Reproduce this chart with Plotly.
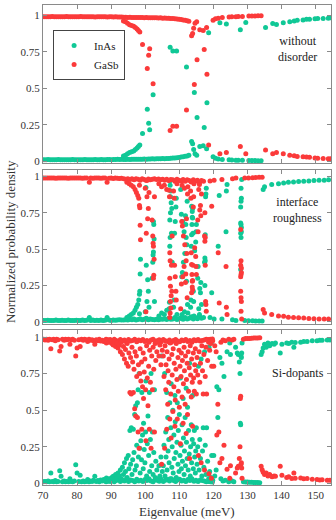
import plotly.graph_objects as go

# ---------------- axis / label data ----------------
x_ticks = [70, 80, 90, 100, 110, 120, 130, 140, 150]
y_ticks = [0, 0.25, 0.5, 0.75, 1]
y_tick_text = ["0", "0.25", "0.5", "0.75", "1"]
series_names = ["InAs", "GaSb"]
panel_labels = ["without<br>disorder", "interface<br>roughness", "Si-dopants"]

# ---------------- panel 1: without disorder ----------------
p1a_E = [70.3, 70.9, 71.5, 72.1, 72.7, 73.3, 73.9, 74.5, 75.1, 75.7, 76.3, 76.9, 77.5, 78.1, 78.7, 79.3, 79.9, 80.5, 81.1, 81.7,
         82.3, 82.9, 83.5, 84.1, 84.7, 85.3, 85.9, 86.5, 87.1, 87.7, 88.3, 88.9, 89.5, 90.1, 90.7, 91.3, 91.9, 92.5, 93.1]
p1a_inas = [0.010, 0.010, 0.011, 0.010, 0.009, 0.010, 0.010, 0.011, 0.010, 0.010, 0.010, 0.009, 0.010, 0.010, 0.011, 0.010, 0.010, 0.010, 0.009, 0.010,
            0.011, 0.010, 0.010, 0.010, 0.010, 0.012, 0.010, 0.010, 0.011, 0.010, 0.010, 0.012, 0.011, 0.010, 0.012, 0.011, 0.013, 0.012, 0.013]
p1a_gasb = [0.990, 0.990, 0.989, 0.990, 0.991, 0.990, 0.990, 0.989, 0.990, 0.990, 0.990, 0.991, 0.990, 0.990, 0.989, 0.990, 0.990, 0.990, 0.991, 0.990,
            0.989, 0.990, 0.990, 0.990, 0.990, 0.988, 0.990, 0.990, 0.989, 0.990, 0.990, 0.988, 0.989, 0.990, 0.988, 0.989, 0.987, 0.988, 0.987]

p1b_E = [93.7, 94.3, 94.9, 95.5, 96.1, 96.7, 97.3, 97.9, 98.5, 99.1, 99.7, 100.3, 100.9, 101.5, 102.1, 102.7, 103.3, 103.9, 104.5, 105.1,
         105.7, 106.3, 106.9, 107.5, 108.1, 108.7, 109.3, 109.9, 110.5, 111.1, 111.7, 112.3, 112.8]
p1b_inas = [0.012, 0.012, 0.013, 0.012, 0.013, 0.013, 0.014, 0.013, 0.014, 0.014, 0.015, 0.014, 0.015, 0.015, 0.016, 0.015, 0.016, 0.017, 0.016, 0.018,
            0.017, 0.018, 0.019, 0.020, 0.021, 0.022, 0.024, 0.025, 0.028, 0.030, 0.033, 0.036, 0.040]
p1b_gasb = [0.986, 0.986, 0.985, 0.986, 0.985, 0.985, 0.984, 0.985, 0.984, 0.984, 0.983, 0.984, 0.983, 0.983, 0.982, 0.983, 0.982, 0.981, 0.982, 0.980,
            0.981, 0.980, 0.979, 0.978, 0.977, 0.976, 0.974, 0.973, 0.970, 0.968, 0.965, 0.962, 0.958]

p1c_E = [93.6, 94.2, 94.8, 95.4, 96.0, 96.6, 97.1, 97.6, 98.0, 98.4, 99.2, 100.6, 101.0, 101.3, 102.3]
p1c_inas = [0.035, 0.04, 0.05, 0.06, 0.065, 0.07, 0.08, 0.09, 0.10, 0.11, 0.19, 0.355, 0.26, 0.215, 0.455]
p1c_gasb = [0.96, 0.955, 0.945, 0.935, 0.93, 0.925, 0.915, 0.905, 0.895, 0.885, 0.80, 0.635, 0.725, 0.77, 0.53]

p1d_E = [107.3, 108.1, 109.2, 112.1, 113.6, 113.9, 114.2, 114.4, 114.6, 115.1, 115.2, 116.0, 117.0, 117.3, 118.0, 118.1, 118.6]
p1d_inas = [0.78, 0.755, 0.755, 0.645, 0.135, 0.12, 0.08, 0.47, 0.05, 0.04, 0.30, 0.10, 0.105, 0.23, 0.085, 0.40, 0.88]
p1d_gasb = [0.21, 0.24, 0.24, 0.35, 0.86, 0.875, 0.91, 0.525, 0.945, 0.955, 0.695, 0.90, 0.895, 0.765, 0.915, 0.595, 0.11]

p1e_E = [119.9, 120.6, 121.4, 121.9, 122.6, 123.8, 124.6, 125.4, 126.6, 127.3, 127.9, 128.5, 129.5, 130.4, 131.3, 132.2, 133.1, 134.0]
p1e_inas = [0.03, 0.02, 0.015, 0.948, 0.012, 0.94, 0.01, 0.008, 0.007, 0.006, 0.90, 0.006, 0.95, 0.005, 0.004, 0.004, 0.003, 0.003]
p1e_gasb = [0.965, 0.975, 0.98, 0.05, 0.985, 0.06, 0.988, 0.99, 0.99, 0.992, 0.10, 0.992, 0.05, 0.994, 0.995, 0.995, 0.996, 0.996]

p1f_E = [135.3, 137.4, 138.5, 140.5, 142.4, 143.7, 144.6, 146.3, 147.3, 148.2, 149.8, 150.6, 152.2, 153.7, 154.4]
p1f_inas = [0.916, 0.943, 0.937, 0.948, 0.955, 0.96, 0.965, 0.968, 0.972, 0.973, 0.975, 0.977, 0.977, 0.98, 0.982]
p1f_gasb = [0.077, 0.05, 0.06, 0.05, 0.041, 0.037, 0.032, 0.03, 0.028, 0.027, 0.022, 0.02, 0.018, 0.016, 0.016]

# ---------------- panel 2: interface roughness ----------------
p2a_E = [70.2, 70.8, 71.4, 72.0, 72.6, 73.2, 73.8, 74.4, 75.0, 75.6, 76.2, 76.8, 77.4, 78.0, 78.6, 79.2, 79.8, 80.4, 81.0, 81.6,
         82.2, 82.8, 83.6, 84.0, 84.6, 85.2, 85.8, 86.4, 87.0, 87.6, 88.2, 88.8, 89.4, 90.0, 90.6, 91.2, 91.8, 92.4, 93.0]
p2a_inas = [0.010, 0.010, 0.011, 0.010, 0.010, 0.010, 0.012, 0.010, 0.010, 0.011, 0.010, 0.010, 0.012, 0.010, 0.010, 0.010, 0.011, 0.010, 0.010, 0.012,
            0.010, 0.011, 0.030, 0.010, 0.012, 0.010, 0.011, 0.010, 0.012, 0.010, 0.011, 0.030, 0.012, 0.010, 0.013, 0.011, 0.012, 0.014, 0.012]
p2a_gasb = [0.990, 0.990, 0.989, 0.990, 0.990, 0.990, 0.988, 0.990, 0.990, 0.989, 0.990, 0.990, 0.988, 0.990, 0.990, 0.990, 0.989, 0.990, 0.990, 0.988,
            0.990, 0.989, 0.960, 0.990, 0.988, 0.990, 0.989, 0.990, 0.988, 0.990, 0.989, 0.960, 0.988, 0.990, 0.987, 0.989, 0.988, 0.986, 0.988]

p2b_E = [93.7, 94.3, 94.9, 95.5, 96.1, 96.7, 97.3, 97.9, 98.5, 99.1, 99.7, 100.3, 100.9, 101.5, 102.1, 102.7, 103.3, 103.9, 104.5, 105.1,
         105.7, 106.3, 106.9, 107.5, 108.1, 108.7, 109.3, 109.9, 110.5, 111.1, 111.7, 112.3, 112.9, 113.5, 114.1, 114.7, 115.3, 115.9, 116.5, 117.1]
p2b_inas = [0.012, 0.015, 0.012, 0.018, 0.014, 0.020, 0.013, 0.016, 0.022, 0.014, 0.018, 0.025, 0.015, 0.020, 0.016, 0.014, 0.018, 0.015, 0.020, 0.017,
            0.022, 0.016, 0.025, 0.018, 0.020, 0.030, 0.016, 0.022, 0.028, 0.018, 0.030, 0.020, 0.025, 0.035, 0.020, 0.030, 0.022, 0.040, 0.025, 0.030]
p2b_gasb = [0.985, 0.982, 0.985, 0.980, 0.984, 0.978, 0.985, 0.982, 0.975, 0.984, 0.980, 0.972, 0.983, 0.978, 0.982, 0.984, 0.980, 0.983, 0.978, 0.981,
            0.975, 0.982, 0.972, 0.980, 0.978, 0.968, 0.982, 0.975, 0.970, 0.980, 0.967, 0.978, 0.972, 0.962, 0.978, 0.968, 0.975, 0.957, 0.972, 0.968]

p2c_E = [94.6, 95.3, 95.9, 96.5, 97.0, 97.4, 97.8, 98.1, 98.3, 98.4, 98.5, 98.6, 98.3,
         100.0, 100.2, 100.3, 100.5, 100.7, 100.9, 101.1, 100.6,
         102.0, 102.2, 102.3, 102.4, 102.5, 102.6, 102.7, 102.4,
         104.0, 104.8, 105.6, 106.3]
p2c_inas = [0.03, 0.04, 0.05, 0.06, 0.08, 0.10, 0.12, 0.15, 0.19, 0.21, 0.33, 0.43, 0.055,
            0.07, 0.925, 0.39, 0.14, 0.29, 0.21, 0.10, 0.02,
            0.30, 0.41, 0.46, 0.48, 0.67, 0.57, 0.14, 0.69,
            0.04, 0.06, 0.05, 0.08]
p2c_gasb = [0.96, 0.95, 0.94, 0.93, 0.91, 0.89, 0.87, 0.85, 0.80, 0.785, 0.665, 0.565, 0.94,
            0.92, 0.07, 0.61, 0.86, 0.71, 0.78, 0.89, 0.975,
            0.70, 0.59, 0.54, 0.52, 0.32, 0.43, 0.86, 0.30,
            0.95, 0.93, 0.94, 0.91]

p2d_E = [107.0, 107.1, 107.2, 107.3, 107.2, 107.4, 107.5, 107.3, 107.2, 107.6, 107.8, 107.9, 107.7, 107.4,
         108.3, 108.5, 108.6, 108.8, 109.0, 109.1, 109.3,
         110.4, 110.6, 110.7, 110.9, 111.0, 111.2, 111.4, 111.6, 111.8, 111.9, 112.0, 112.1, 112.2, 112.3, 112.4, 112.5, 111.5, 110.8]
p2d_inas = [0.09, 0.135, 0.52, 0.58, 0.70, 0.75, 0.90, 0.94, 0.97, 0.82, 0.78, 0.41, 0.61, 0.86,
            0.10, 0.15, 0.61, 0.69, 0.79, 0.85, 0.05,
            0.91, 0.74, 0.31, 0.34, 0.69, 0.41, 0.62, 0.47, 0.73, 0.67, 0.58, 0.28, 0.53, 0.83, 0.12, 0.06, 0.07, 0.05]
p2d_gasb = [0.905, 0.86, 0.475, 0.42, 0.30, 0.245, 0.096, 0.06, 0.03, 0.18, 0.21, 0.59, 0.39, 0.14,
            0.90, 0.85, 0.39, 0.31, 0.21, 0.15, 0.95,
            0.09, 0.26, 0.69, 0.66, 0.31, 0.59, 0.38, 0.53, 0.27, 0.33, 0.42, 0.71, 0.47, 0.165, 0.88, 0.93, 0.92, 0.94]

p2e_E = [113.3, 113.4, 113.5, 113.6, 113.7, 113.8, 113.9, 113.6, 113.8, 113.9, 114.0, 114.1, 114.2, 114.5, 114.8, 114.9, 115.0, 114.3,
         115.4, 115.5, 115.7, 116.0, 116.2, 116.3, 116.5, 115.9,
         117.4, 117.5, 117.6, 117.7, 117.8, 117.9, 117.5, 117.6]
p2e_inas = [0.10, 0.15, 0.52, 0.60, 0.67, 0.72, 0.78, 0.795, 0.76, 0.715, 0.61, 0.21, 0.14, 0.49, 0.55, 0.62, 0.67, 0.04,
            0.30, 0.38, 0.09, 0.23, 0.20, 0.27, 0.12, 0.05,
            0.41, 0.44, 0.60, 0.86, 0.88, 0.92, 0.25, 0.42]
p2e_gasb = [0.90, 0.85, 0.475, 0.395, 0.326, 0.28, 0.22, 0.20, 0.24, 0.285, 0.39, 0.79, 0.86, 0.51, 0.45, 0.38, 0.325, 0.95,
            0.70, 0.62, 0.91, 0.77, 0.80, 0.73, 0.88, 0.945,
            0.59, 0.555, 0.39, 0.14, 0.12, 0.073, 0.75, 0.58]

p2f_E = [119.0, 119.5, 120.2, 121.4, 121.7, 122.5, 123.7, 123.8, 124.0, 125.6, 126.6,
         128.0, 128.1, 128.0, 128.2, 128.1, 128.0, 128.1, 128.2, 128.1, 128.3, 128.0, 128.2,
         129.2, 130.3, 131.5, 132.4, 133.4, 134.3]
p2f_inas = [0.03, 0.20, 0.02, 0.52, 0.87, 0.02, 0.62, 0.90, 0.945, 0.015, 0.01,
            0.36, 0.58, 0.61, 0.62, 0.67, 0.79, 0.83, 0.85, 0.92, 0.98, 0.68, 0.65,
            0.01, 0.008, 0.008, 0.006, 0.005, 0.005]
p2f_gasb = [0.97, 0.795, 0.975, 0.475, 0.13, 0.98, 0.38, 0.10, 0.05, 0.985, 0.99,
            0.635, 0.42, 0.39, 0.37, 0.326, 0.21, 0.165, 0.14, 0.073, 0.02, 0.31, 0.34,
            0.99, 0.99, 0.992, 0.993, 0.995, 0.995]

p2g_E = [134.6, 135.0, 137.1, 139.1, 140.6, 142.0, 143.5, 145.0, 146.5, 148.0, 149.5, 151.0, 152.5, 153.8]
p2g_inas = [0.91, 0.93, 0.945, 0.95, 0.955, 0.96, 0.962, 0.965, 0.968, 0.97, 0.972, 0.975, 0.975, 0.977]
p2g_gasb = [0.085, 0.06, 0.05, 0.04, 0.038, 0.032, 0.03, 0.028, 0.026, 0.023, 0.022, 0.02, 0.02, 0.019]

# ---------------- panel 3: Si-dopants ----------------
p3a_E = [70.2, 70.6, 71.0, 71.5, 71.9, 72.3, 72.7, 73.1, 73.6, 74.0, 74.4, 74.9, 75.3, 75.7, 76.2, 76.6, 77.0, 77.5, 77.9, 78.3, 78.7,
         79.2, 79.6, 80.0, 80.5, 80.9, 81.3, 81.8, 82.2, 82.6, 83.1, 83.5, 83.9, 84.4, 84.8, 85.2, 85.6, 86.1, 86.5, 86.9, 87.4, 87.8]
p3a_inas = [0.01, 0.012, 0.01, 0.015, 0.01, 0.07, 0.012, 0.01, 0.018, 0.01, 0.012, 0.085, 0.048, 0.01, 0.015, 0.01, 0.012, 0.01, 0.03, 0.012, 0.01,
            0.015, 0.127, 0.07, 0.012, 0.055, 0.01, 0.015, 0.01, 0.012, 0.025, 0.01, 0.015, 0.012, 0.02, 0.048, 0.012, 0.018, 0.01, 0.022, 0.015, 0.025]
p3a_gasb = [0.985, 0.98, 0.985, 0.978, 0.985, 0.92, 0.982, 0.985, 0.975, 0.985, 0.982, 0.905, 0.935, 0.985, 0.978, 0.985, 0.982, 0.985, 0.95, 0.982, 0.985,
            0.978, 0.87, 0.925, 0.982, 0.935, 0.985, 0.978, 0.985, 0.982, 0.97, 0.985, 0.978, 0.982, 0.975, 0.95, 0.982, 0.975, 0.985, 0.972, 0.978, 0.97]

p3b_E = [88.5, 89.1, 89.7, 90.3, 90.9, 91.5, 92.1, 92.7, 93.3, 93.9, 94.5, 95.1, 95.7, 96.3, 96.9, 97.5, 98.1, 98.7, 99.3, 99.9,
         100.5, 101.1, 101.7, 102.3, 102.9, 103.5, 104.1, 104.7, 105.3, 105.9, 106.5, 107.1, 107.7, 108.3, 108.9, 109.5, 110.1, 110.7, 111.3, 111.9,
         112.5, 113.1, 113.7, 114.3, 114.9, 115.5, 116.1, 116.7, 117.3, 117.9, 118.5, 119.1, 119.7]
p3b_inas = [0.01, 0.015, 0.012, 0.02, 0.01, 0.018, 0.025, 0.012, 0.02, 0.015, 0.03, 0.012, 0.022, 0.018, 0.01, 0.028, 0.015, 0.02, 0.012, 0.025,
            0.018, 0.03, 0.015, 0.01, 0.022, 0.02, 0.014, 0.028, 0.012, 0.02, 0.025, 0.015, 0.03, 0.018, 0.012, 0.022, 0.028, 0.015, 0.02, 0.012,
            0.025, 0.018, 0.03, 0.014, 0.02, 0.012, 0.022, 0.018, 0.015, 0.01, 0.012, 0.01, 0.008]
p3b_gasb = [0.985, 0.98, 0.983, 0.975, 0.985, 0.977, 0.97, 0.983, 0.975, 0.98, 0.965, 0.983, 0.973, 0.977, 0.985, 0.967, 0.98, 0.975, 0.983, 0.97,
            0.977, 0.965, 0.98, 0.985, 0.973, 0.975, 0.981, 0.967, 0.983, 0.975, 0.97, 0.98, 0.965, 0.977, 0.983, 0.973, 0.967, 0.98, 0.975, 0.983,
            0.97, 0.977, 0.965, 0.981, 0.975, 0.983, 0.973, 0.977, 0.98, 0.985, 0.983, 0.985, 0.987]

p3c_E = [88.2, 88.6, 89.0, 89.4, 89.8, 90.2, 90.6, 91.0, 91.3, 91.7, 92.0, 92.4, 92.7, 93.0, 93.3, 93.6, 93.9, 94.2, 94.5, 94.7,
         95.0, 95.2, 95.5, 95.7, 95.9, 96.1, 96.3, 96.5, 96.7, 96.9, 97.0, 97.2, 97.4, 97.5, 97.7, 97.9, 98.0, 98.2, 98.4, 98.5,
         98.7, 98.9, 99.0, 99.2, 99.4, 99.5, 99.7, 99.9, 100.1, 100.2, 100.4, 100.6, 100.8, 101.0, 101.2, 101.3, 101.5, 101.7, 101.9, 102.1,
         102.3, 102.5, 102.7, 102.9, 103.1, 103.4, 103.7, 104.0, 104.3, 104.6, 104.8, 105.0]
p3c_inas = [0.02, 0.036, 0.015, 0.03, 0.02, 0.04, 0.048, 0.025, 0.06, 0.035, 0.07, 0.05, 0.09, 0.03, 0.11, 0.06, 0.14, 0.08, 0.17, 0.04,
            0.19, 0.10, 0.36, 0.13, 0.38, 0.06, 0.16, 0.37, 0.21, 0.47, 0.09, 0.53, 0.12, 0.26, 0.55, 0.64, 0.18, 0.75, 0.24, 0.07,
            0.29, 0.16, 0.62, 0.33, 0.10, 0.41, 0.23, 0.14, 0.35, 0.70, 0.05, 0.27, 0.46, 0.19, 0.62, 0.08, 0.30, 0.75, 0.12, 0.35,
            0.06, 0.21, 0.64, 0.04, 0.15, 0.09, 0.03, 0.12, 0.05, 0.18, 0.87, 0.08]
p3c_gasb = [0.975, 0.96, 0.98, 0.965, 0.975, 0.955, 0.945, 0.97, 0.935, 0.96, 0.925, 0.945, 0.90, 0.965, 0.88, 0.935, 0.85, 0.915, 0.82, 0.955,
            0.80, 0.89, 0.62, 0.86, 0.61, 0.93, 0.83, 0.62, 0.78, 0.51, 0.90, 0.46, 0.87, 0.73, 0.45, 0.35, 0.81, 0.24, 0.75, 0.92,
            0.70, 0.83, 0.37, 0.66, 0.89, 0.58, 0.76, 0.85, 0.64, 0.29, 0.94, 0.72, 0.53, 0.80, 0.37, 0.91, 0.69, 0.24, 0.87, 0.64,
            0.93, 0.78, 0.35, 0.955, 0.84, 0.90, 0.965, 0.87, 0.945, 0.81, 0.13, 0.91]

p3d_E = [105.3, 105.5, 105.7, 105.8, 106.0, 106.1, 106.3, 106.4, 106.6, 106.7, 106.9, 107.0, 107.2, 107.3, 107.5, 107.6, 107.8, 107.9, 108.1, 108.2,
         108.4, 108.5, 108.7, 108.8, 109.0, 109.1, 109.3, 109.4, 109.6, 109.7, 109.9, 110.0, 110.2, 110.3, 110.5, 110.6, 110.8, 110.9, 111.1, 111.2,
         111.4, 111.5, 111.7, 111.8, 112.0, 112.1, 112.3, 112.4, 112.6, 112.7, 112.9, 113.0, 113.2, 113.3, 113.5, 113.6, 113.8, 113.9, 114.1, 114.2,
         114.4, 114.5, 114.7, 114.8, 115.0, 115.2, 115.4, 115.6, 115.8, 116.0, 116.2, 116.4, 116.6, 116.8, 117.0, 117.2, 117.4, 117.6, 117.8, 118.0,
         118.3, 118.6, 118.9, 119.2, 119.5, 119.8]
p3d_inas = [0.12, 0.26, 0.75, 0.05, 0.35, 0.18, 0.62, 0.09, 0.45, 0.22, 0.30, 0.14, 0.55, 0.03, 0.38, 0.68, 0.11, 0.25, 0.50, 0.07,
            0.33, 0.17, 0.60, 0.42, 0.21, 0.04, 0.28, 0.55, 0.13, 0.36, 0.08, 0.47, 0.19, 0.72, 0.26, 0.10, 0.40, 0.15, 0.58, 0.31,
            0.06, 0.22, 0.45, 0.12, 0.65, 0.28, 0.17, 0.52, 0.09, 0.36, 0.20, 0.82, 0.05, 0.25, 0.40, 0.14, 0.30, 0.60, 0.10, 0.27,
            0.36, 0.18, 0.07, 0.22, 0.38, 0.13, 0.25, 0.80, 0.09, 0.30, 0.17, 0.85, 0.05, 0.22, 0.38, 0.11, 0.90, 0.26, 0.06, 0.38,
            0.15, 0.03, 0.08, 0.04, 0.19, 0.02]
p3d_gasb = [0.87, 0.73, 0.24, 0.94, 0.64, 0.81, 0.37, 0.90, 0.54, 0.77, 0.69, 0.85, 0.44, 0.96, 0.61, 0.31, 0.88, 0.74, 0.49, 0.92,
            0.66, 0.82, 0.39, 0.57, 0.78, 0.955, 0.71, 0.44, 0.86, 0.63, 0.91, 0.52, 0.80, 0.27, 0.73, 0.89, 0.59, 0.84, 0.41, 0.68,
            0.93, 0.77, 0.54, 0.87, 0.34, 0.71, 0.82, 0.47, 0.90, 0.63, 0.79, 0.17, 0.94, 0.74, 0.59, 0.85, 0.69, 0.39, 0.89, 0.72,
            0.63, 0.81, 0.92, 0.77, 0.61, 0.86, 0.74, 0.19, 0.90, 0.69, 0.82, 0.14, 0.94, 0.77, 0.61, 0.88, 0.09, 0.73, 0.93, 0.61,
            0.84, 0.965, 0.91, 0.955, 0.80, 0.975]

p3e_E = [120.1, 120.4, 120.8, 121.0, 121.3, 121.6, 121.9, 122.2, 122.5, 122.8, 123.1, 123.5, 124.0, 124.5, 124.8, 125.0, 125.5, 126.0, 126.5, 127.0,
         127.3, 127.6, 127.8, 127.9, 128.0, 128.1, 128.2, 128.3, 128.4, 128.8, 129.4, 130.0, 130.6, 131.2, 131.8, 132.4, 133.0, 133.6, 118.7, 119.4]
p3e_inas = [0.19, 0.05, 0.09, 0.66, 0.45, 0.64, 0.86, 0.03, 0.82, 0.015, 0.73, 0.02, 0.90, 0.01, 0.96, 0.88, 0.015, 0.01, 0.93, 0.89,
            0.88, 0.83, 0.75, 0.41, 0.40, 0.87, 0.86, 0.89, 0.96, 0.01, 0.008, 0.008, 0.006, 0.006, 0.005, 0.005, 0.005, 0.004, 0.93, 0.96]
p3e_gasb = [0.80, 0.94, 0.90, 0.33, 0.54, 0.35, 0.14, 0.965, 0.17, 0.98, 0.26, 0.975, 0.095, 0.985, 0.035, 0.12, 0.98, 0.985, 0.07, 0.105,
            0.116, 0.17, 0.25, 0.58, 0.595, 0.13, 0.14, 0.105, 0.035, 0.985, 0.99, 0.99, 0.99, 0.992, 0.993, 0.994, 0.994, 0.995, 0.065, 0.035]

p3f_E = [134.0, 134.3, 134.6, 135.0, 135.5, 136.0, 136.5, 137.2, 137.8, 138.2, 139.6, 140.1, 141.5, 142.1, 143.0, 143.6, 144.0, 145.6, 146.5, 147.5,
         149.0, 150.4, 151.2, 151.9, 153.4, 154.2]
p3f_inas = [0.88, 0.90, 0.925, 0.95, 0.93, 0.96, 0.94, 0.955, 0.95, 0.96, 0.89, 0.95, 0.96, 0.955, 0.965, 0.93, 0.962, 0.965, 0.97, 0.97,
            0.975, 0.975, 0.978, 0.978, 0.98, 0.98]
p3f_gasb = [0.116, 0.093, 0.075, 0.06, 0.07, 0.05, 0.06, 0.045, 0.05, 0.048, 0.116, 0.055, 0.04, 0.045, 0.033, 0.07, 0.035, 0.036, 0.03, 0.032,
            0.028, 0.025, 0.022, 0.024, 0.02, 0.02]

panels = [
    (p1a_E + p1b_E + p1c_E + p1d_E + p1e_E + p1f_E,
     p1a_inas + p1b_inas + p1c_inas + p1d_inas + p1e_inas + p1f_inas,
     p1a_gasb + p1b_gasb + p1c_gasb + p1d_gasb + p1e_gasb + p1f_gasb),
    (p2a_E + p2b_E + p2c_E + p2d_E + p2e_E + p2f_E + p2g_E,
     p2a_inas + p2b_inas + p2c_inas + p2d_inas + p2e_inas + p2f_inas + p2g_inas,
     p2a_gasb + p2b_gasb + p2c_gasb + p2d_gasb + p2e_gasb + p2f_gasb + p2g_gasb),
    (p3a_E + p3b_E + p3c_E + p3d_E + p3e_E + p3f_E,
     p3a_inas + p3b_inas + p3c_inas + p3d_inas + p3e_inas + p3f_inas,
     p3a_gasb + p3b_gasb + p3c_gasb + p3d_gasb + p3e_gasb + p3f_gasb),
]
for e, a, b in panels:
    assert len(e) == len(a) == len(b), (len(e), len(a), len(b))

# ---------------- styling ----------------
GREEN = "#10c896"
RED = "#fb3a3a"
FONT = "Liberation Serif"
AXC = "#8a8a8a"
TXT = "#333333"
MS = 5

fig = go.Figure()
for i, (e, a, b) in enumerate(panels):
    s = "" if i == 0 else str(i + 1)
    fig.add_trace(go.Scatter(x=e, y=a, mode="markers", name=series_names[0], showlegend=(i == 0),
                             marker=dict(color=GREEN, size=MS, line=dict(width=0)),
                             xaxis="x" + s, yaxis="y" + s))
    fig.add_trace(go.Scatter(x=e, y=b, mode="markers", name=series_names[1], showlegend=(i == 0),
                             marker=dict(color=RED, size=MS, line=dict(width=0)),
                             xaxis="x" + s, yaxis="y" + s))

domains = [[0.671, 1.0], [0.3354, 0.6563], [0.0, 0.3229]]
yranges = [[-0.012, 1.07], [-0.015, 1.045], [-0.012, 1.048]]
layout = dict(
    width=336, height=520,
    margin=dict(l=43, r=5, t=5, b=35),
    paper_bgcolor="white", plot_bgcolor="white",
    font=dict(family=FONT, size=11, color=TXT),
    showlegend=True,
    legend=dict(x=0.035, y=0.948, xanchor="left", yanchor="top", bgcolor="white",
                bordercolor="#444444", borderwidth=1, font=dict(family=FONT, size=11, color="#222222"),
                itemsizing="trace", tracegroupgap=0, itemwidth=30),
)
for i in range(3):
    s = "" if i == 0 else str(i + 1)
    layout["xaxis" + s] = dict(range=[70, 154.5], domain=[0, 1], anchor="y" + s, tickvals=x_ticks,
                               showticklabels=(i == 2), ticks="inside", ticklen=4, tickcolor=AXC,
                               showline=True, linecolor=AXC, linewidth=1, mirror="ticks",
                               showgrid=False, zeroline=False,
                               tickfont=dict(family=FONT, size=11, color=TXT))
    layout["yaxis" + s] = dict(range=yranges[i], domain=domains[i], anchor="x" + s,
                               tickvals=y_ticks, ticktext=y_tick_text,
                               ticks="inside", ticklen=4, tickcolor=AXC,
                               showline=True, linecolor=AXC, linewidth=1, mirror="ticks",
                               showgrid=False, zeroline=False,
                               tickfont=dict(family=FONT, size=11, color=TXT))
fig.update_layout(**layout)

ann_y = [0.908, 0.573, 0.233]
for i in range(3):
    fig.add_annotation(text=panel_labels[i], xref="paper", yref="paper", x=0.885, y=ann_y[i],
                       xanchor="center", yanchor="middle", showarrow=False,
                       font=dict(family=FONT, size=12, color="#222222"))
fig.add_annotation(text="Eigenvalue (meV)", xref="paper", yref="paper", x=0.5, y=-0.056,
                   xanchor="center", yanchor="middle", showarrow=False,
                   font=dict(family=FONT, size=13, color=TXT))
fig.add_annotation(text="Normalized probability density", xref="paper", yref="paper", x=-0.115, y=0.508,
                   xanchor="center", yanchor="middle", textangle=-90, showarrow=False,
                   font=dict(family=FONT, size=13, color=TXT))

fig.write_html("out.html", config={"displayModeBar": False},
               post_script="document.body.style.margin='0';document.body.style.padding='0';")
